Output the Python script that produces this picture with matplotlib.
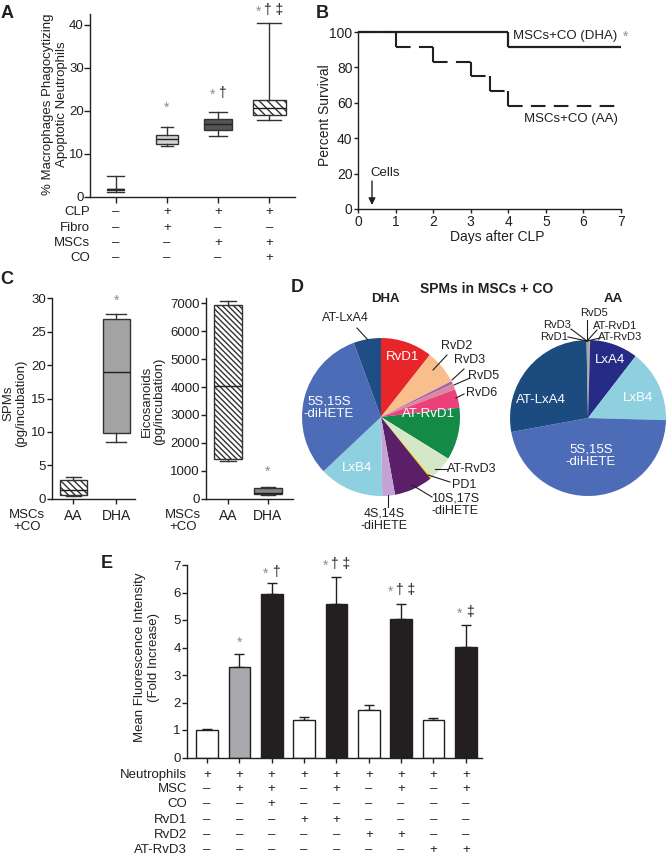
import matplotlib
matplotlib.use('Agg')
import matplotlib.pyplot as plt
import numpy as np

plt.rcParams['font.family'] = ['Liberation Sans', 'DejaVu Sans']
plt.rcParams['hatch.linewidth'] = 1.0
plt.rcParams['font.size'] = 9.5

W, H = 666, 856
LC = '#231F20'
GRAY_STAR = '#8C8C8C'
PLUS, MINUS = '+', '–'

# ---------------- panel A: box plots ----------------
a_lo = [1.2, 11.7, 14.2, 17.9]
a_q1 = [1.5, 12.3, 15.6, 19.0]
a_med = [1.7, 13.5, 16.8, 20.6]
a_q3 = [1.8, 14.3, 18.1, 22.5]
a_hi = [4.7, 16.3, 19.8, 40.3]
a_rows = ['CLP', 'Fibro', 'MSCs', 'CO']
a_signs = [['-', '+', '+', '+'],
           ['-', '+', '-', '-'],
           ['-', '-', '+', '+'],
           ['-', '-', '-', '+']]
a_star = [False, True, True, True]
a_dagger = ['', '', '†', '† ‡']

# ---------------- panel B: survival ----------------
b_t_dha = [0, 4, 7]
b_s_dha = [100, 91.7]
b_t_aa = [0, 1, 2, 3, 3.5, 4, 7]
b_s_aa = [100, 91.7, 83.3, 75.0, 66.7, 58.3]

# ---------------- panel C: box plots ----------------
c_groups = ['AA', 'DHA']
c_spm_lo = [0.4, 8.5]
c_spm_q1 = [0.5, 9.8]
c_spm_med = [1.3, 18.9]
c_spm_q3 = [2.8, 26.9]
c_spm_hi = [3.2, 27.7]
c_eic_lo = [1350, 130]
c_eic_q1 = [1420, 160]
c_eic_med = [4050, 220]
c_eic_q3 = [6940, 370]
c_eic_hi = [7090, 420]

# ---------------- panel D: pies ----------------
d_dha_names = ['RvD1', 'RvD2', 'RvD3', 'RvD5', 'RvD6', 'AT-RvD1', 'AT-RvD3', 'PD1',
               '10S,17S-diHETE', '4S,14S-diHETE', 'LxB4', '5S,15S-diHETE', 'AT-LxA4']
d_dha_vals = [10.6, 6.9, 0.6, 1.2, 3.8, 10.7, 5.0, 0.4, 7.9, 2.6, 13.2, 31.4, 5.6]
d_dha_colors = ['#E8262A', '#F8BE8C', '#A560B0', '#D9899F', '#EC407A', '#138A45', '#D4E8C8',
                '#F2E01C', '#5B1F6A', '#C6A2D4', '#8FD0E0', '#4D6CB8', '#1F4E86']
d_aa_names = ['RvD5', 'AT-RvD1', 'AT-RvD3', 'LxA4', 'LxB4', '5S,15S-diHETE', 'AT-LxA4', 'RvD1', 'RvD3']
d_aa_vals = [0.15, 0.15, 0.15, 10.0, 15.0, 46.7, 27.6, 0.15, 0.15]
d_aa_colors = ['#9A9A9A', '#8A8A8A', '#9A9A9A', '#262C86', '#8FD0E0', '#4D6CB8', '#1C4B80',
               '#9A9A9A', '#8A8A8A']

# ---------------- panel E: bars ----------------
e_vals = [1.0, 3.28, 5.93, 1.37, 5.58, 1.72, 5.02, 1.36, 4.03]
e_sem = [0.05, 0.50, 0.42, 0.09, 1.00, 0.20, 0.55, 0.09, 0.78]
e_colors = ['white', '#A7A9AC', LC, 'white', LC, 'white', LC, 'white', LC]
e_rows = ['Neutrophils', 'MSC', 'CO', 'RvD1', 'RvD2', 'AT-RvD3']
e_signs = [['+'] * 9,
           ['-', '+', '+', '-', '+', '-', '+', '-', '+'],
           ['-', '-', '+', '-', '-', '-', '-', '-', '-'],
           ['-', '-', '-', '+', '+', '-', '-', '-', '-'],
           ['-', '-', '-', '-', '-', '+', '+', '-', '-'],
           ['-', '-', '-', '-', '-', '-', '-', '+', '+']]
e_star = [False, True, True, False, True, False, True, False, True]
e_dagger = ['', '', '†', '', '† ‡', '', '† ‡', '', '‡']


fig = plt.figure(figsize=(W / 100, H / 100), dpi=100)


def rect(l, t, r, b):
    return [l / W, 1 - b / H, (r - l) / W, (b - t) / H]


def style(ax, length=3.5, pad=1.0):
    for s in ['top', 'right']:
        ax.spines[s].set_visible(False)
    for s in ['left', 'bottom']:
        ax.spines[s].set_color(LC)
        ax.spines[s].set_linewidth(1.0)
    ax.tick_params(color=LC, labelcolor=LC, length=length, width=1, labelsize=9.5, pad=pad)


def px_x(ax, v):
    return ax.transData.transform((v, 0))[0]


def boxstats(lo, q1, med, q3, hi):
    return [dict(whislo=a, q1=b, med=c, q3=d, whishi=e, fliers=[])
            for a, b, c, d, e in zip(lo, q1, med, q3, hi)]


def draw_boxes(ax, stats, widths, capw, faces, hatches, medcolor=LC):
    bp = ax.bxp(stats, positions=range(len(stats)), widths=widths, capwidths=capw,
                patch_artist=True, showfliers=False, manage_ticks=False,
                boxprops=dict(edgecolor='#333333', linewidth=1.0),
                medianprops=dict(color=medcolor, linewidth=1.0),
                whiskerprops=dict(color='#333333', linewidth=1.0),
                capprops=dict(color='#333333', linewidth=1.0))
    for patch, fc, h in zip(bp['boxes'], faces, hatches):
        patch.set_facecolor(fc)
        patch.set_hatch(h)
    return bp


# overlay axes in pixel coordinates for labels
ov = fig.add_axes([0, 0, 1, 1], zorder=10)
ov.set_xlim(0, W)
ov.set_ylim(H, 0)
ov.axis('off')
ov.patch.set_visible(False)


def sign_text(s):
    return PLUS if s == '+' else MINUS


def sig(cx, y, star, dagger, fs=10):
    if not star:
        return
    if not dagger:
        ov.text(cx, y + 1, '*', color=GRAY_STAR, ha='center', va='center', fontsize=fs)
        return
    n = len(dagger.split())
    off = 6 if n == 1 else 11
    ov.text(cx - off, y + 1.5, '*', color=GRAY_STAR, ha='center', va='center', fontsize=fs)
    ov.text(cx - off + 6, y, dagger, color=LC, ha='left', va='center', fontsize=fs)


# ================= Panel A =================
axA = fig.add_axes(rect(90, 14, 295, 196.7))
draw_boxes(axA, boxstats(a_lo, a_q1, a_med, a_q3, a_hi),
           widths=[0.33, 0.42, 0.56, 0.65], capw=[0.33, 0.23, 0.36, 0.47],
           faces=['white', '#D3D3D3', '#555555', 'white'], hatches=['', '', '', '\\' * 4])
axA.set_xlim(-0.5, 3.5)
axA.set_ylim(0, 42.5)
axA.set_yticks([0, 10, 20, 30, 40])
axA.set_xticks(range(4))
axA.set_xticklabels([])
style(axA, length=4, pad=0.5)
ov.text(55, 104, '% Macrophages Phagocytizing\nApoptotic Neutrophils', rotation=90,
        ha='center', va='center', fontsize=9.5, linespacing=1.15, color=LC)
for i in range(4):
    cx = px_x(axA, i)
    sig(cx, {1: 107, 2: 93, 3: 10}.get(i, 0), a_star[i], a_dagger[i])
for r, (name, row) in enumerate(zip(a_rows, a_signs)):
    y = [212, 228, 243, 258][r]
    ov.text(90, y, name, ha='right', va='center', fontsize=9.5, color=LC)
    for i, s in enumerate(row):
        ov.text(px_x(axA, i), y, sign_text(s), ha='center', va='center', fontsize=9.5, color=LC)
ov.text(7, 13, 'A', ha='center', va='center', fontsize=13, fontweight='bold', color=LC)

# ================= Panel B =================
axB = fig.add_axes(rect(358, 32, 621, 209))
axB.hlines(b_s_dha, b_t_dha[:-1], b_t_dha[1:], color=LC, lw=1.6, clip_on=False, zorder=3)
axB.vlines(b_t_dha[1:-1], b_s_dha[1:], b_s_dha[:-1], color=LC, lw=1.6, clip_on=False, zorder=3)
axB.hlines(b_s_aa, b_t_aa[:-1], b_t_aa[1:], color=LC, lw=1.5, linestyles=[(0, (7, 4))],
           clip_on=False, zorder=2)
axB.vlines(b_t_aa[1:-1], b_s_aa[1:], b_s_aa[:-1], color=LC, lw=1.5, clip_on=False, zorder=2)
axB.set_xlim(0, 7)
axB.set_ylim(0, 100)
axB.set_xticks(range(8))
axB.set_yticks(range(0, 101, 20))
style(axB, length=3, pad=1)
axB.tick_params(labelsize=10)
ov.text(325, 115, 'Percent Survival', rotation=90, ha='center', va='center', fontsize=10, color=LC)
ov.text(497, 237, 'Days after CLP', ha='center', va='center', fontsize=10, color=LC)
ov.text(513, 36, 'MSCs+CO (DHA)', ha='left', va='center', fontsize=9.5, color=LC)
ov.text(626, 37, '*', ha='center', va='center', fontsize=10, color=GRAY_STAR)
ov.text(618, 119, 'MSCs+CO (AA)', ha='right', va='center', fontsize=9.5, color=LC)
ov.text(370, 173, 'Cells', ha='left', va='center', fontsize=9.5, color=LC)
ov.annotate('', xy=(372, 205), xytext=(372, 181),
            arrowprops=dict(arrowstyle='-|>', color=LC, lw=1.0, mutation_scale=10,
                            shrinkA=0, shrinkB=0))
ov.text(322, 13, 'B', ha='center', va='center', fontsize=13, fontweight='bold', color=LC)

# ================= Panel C =================
axC1 = fig.add_axes(rect(52, 298.3, 135, 498.7))
draw_boxes(axC1, boxstats(c_spm_lo, c_spm_q1, c_spm_med, c_spm_q3, c_spm_hi),
           widths=[0.63, 0.63], capw=[0.35, 0.45], faces=['white', '#A3A3A3'],
           hatches=['\\' * 5, ''])
axC1.set_xlim(-0.49, 1.44)
axC1.set_ylim(0, 30)
axC1.set_yticks(range(0, 31, 5))
axC1.set_xticks(range(2))
axC1.set_xticklabels(c_groups)
style(axC1, length=3.5, pad=1)
axC1.tick_params(axis='x', pad=4, labelsize=10)

axC2 = fig.add_axes(rect(206, 297.7, 293, 498.7))
draw_boxes(axC2, boxstats(c_eic_lo, c_eic_q1, c_eic_med, c_eic_q3, c_eic_hi),
           widths=[0.7, 0.7], capw=[0.42, 0.37], faces=['white', '#858585'],
           hatches=['\\' * 6, ''])
axC2.set_xlim(-0.55, 1.625)
axC2.set_ylim(0, 7200)
axC2.set_yticks(range(0, 7001, 1000))
axC2.set_xticks(range(2))
axC2.set_xticklabels(c_groups)
style(axC2, length=3.5, pad=1)
axC2.tick_params(axis='x', pad=4, labelsize=10)

ov.text(15, 403, 'SPMs\n(pg/incubation)', rotation=90, ha='center', va='center',
        fontsize=9.5, linespacing=1.1, color=LC)
ov.text(153, 401, 'Eicosanoids\n(pg/incubation)', rotation=90, ha='center', va='center',
        fontsize=9.5, linespacing=1.1, color=LC)
ov.text(27, 521, 'MSCs\n+CO', ha='center', va='center', fontsize=9.5, linespacing=1.1, color=LC)
ov.text(183, 521, 'MSCs\n+CO', ha='center', va='center', fontsize=9.5, linespacing=1.1, color=LC)
ov.text(px_x(axC1, 1), 301, '*', ha='center', va='center', fontsize=10, color=GRAY_STAR)
ov.text(px_x(axC2, 1), 472, '*', ha='center', va='center', fontsize=10, color=GRAY_STAR)
ov.text(7, 280, 'C', ha='center', va='center', fontsize=13, fontweight='bold', color=LC)

# ================= Panel D =================
dha_c, dha_r = (381, 417), 79
aa_c, aa_r = (588, 418), 78
axD1 = fig.add_axes(rect(dha_c[0] - dha_r, dha_c[1] - dha_r, dha_c[0] + dha_r, dha_c[1] + dha_r))
axD1.pie(d_dha_vals, colors=d_dha_colors, startangle=90, counterclock=False, radius=1,
         wedgeprops=dict(linewidth=0))
axD1.set_xlim(-1, 1)
axD1.set_ylim(-1, 1)
axD2 = fig.add_axes(rect(aa_c[0] - aa_r, aa_c[1] - aa_r, aa_c[0] + aa_r, aa_c[1] + aa_r))
axD2.pie(d_aa_vals, colors=d_aa_colors, startangle=90, counterclock=False, radius=1,
         wedgeprops=dict(linewidth=0))
axD2.set_xlim(-1, 1)
axD2.set_ylim(-1, 1)

ov.text(297, 287, 'D', ha='center', va='center', fontsize=13, fontweight='bold', color=LC)
ov.text(487, 289, 'SPMs in MSCs + CO', ha='center', va='center', fontsize=10,
        fontweight='bold', color=LC)
ov.text(385, 299, 'DHA', ha='center', va='center', fontsize=9.5, fontweight='bold', color=LC)
ov.text(613, 299, 'AA', ha='center', va='center', fontsize=9.5, fontweight='bold', color=LC)

white_kw = dict(ha='center', va='center', fontsize=9.5, color='white', linespacing=1.05)
ov.text(403, 357, 'RvD1', **white_kw)
ov.text(428, 414, 'AT-RvD1', **white_kw)
ov.text(329, 408, '5S,15S\n-diHETE', **white_kw)
ov.text(357, 468, 'LxB4', **white_kw)
ov.text(610, 360, 'LxA4', **white_kw)
ov.text(638, 398, 'LxB4', **white_kw)
ov.text(541, 400, 'AT-LxA4', **white_kw)
ov.text(591, 456, '5S,15S\n-diHETE', **white_kw)

lab_kw = dict(fontsize=9, color=LC, va='center', linespacing=1.05)
line_kw = dict(color=LC, lw=0.8)
# DHA outside labels
ov.text(345, 318, 'AT-LxA4', ha='center', **lab_kw)
ov.plot([357, 368], [328, 340], **line_kw)
ov.text(457, 346, 'RvD2', ha='center', **lab_kw)
ov.plot([447, 433], [355, 370], **line_kw)
ov.text(470, 360, 'RvD3', ha='center', **lab_kw)
ov.plot([464, 452], [369, 380], **line_kw)
ov.text(484, 376, 'RvD5', ha='center', **lab_kw)
ov.plot([470, 454], [378, 385], **line_kw)
ov.text(482, 393, 'RvD6', ha='center', **lab_kw)
ov.plot([464, 456], [394, 398], **line_kw)
ov.text(447, 469, 'AT-RvD3', ha='left', **lab_kw)
ov.plot([435, 447], [469, 469], **line_kw)
ov.text(452, 485, 'PD1', ha='left', **lab_kw)
ov.plot([428, 450], [475, 482], **line_kw)
ov.text(455, 505, '10S,17S\n-diHETE', ha='center', **lab_kw)
ov.plot([412, 432], [485, 497], **line_kw)
ov.text(384, 520, '4S,14S\n-diHETE', ha='center', **lab_kw)
ov.plot([388, 388], [495, 507], **line_kw)
# AA outside labels
small_kw = dict(fontsize=8, color=LC, va='center')
top = (587, 341)
ov.text(594, 313, 'RvD5', ha='center', **small_kw)
ov.plot([587, top[0]], [320, top[1]], **line_kw)
ov.text(557, 325, 'RvD3', ha='center', **small_kw)
ov.plot([571, top[0]], [329, top[1]], **line_kw)
ov.text(554, 337, 'RvD1', ha='center', **small_kw)
ov.plot([568, top[0]], [337, top[1]], **line_kw)
ov.text(615, 326, 'AT-RvD1', ha='center', **small_kw)
ov.plot([597, top[0]], [330, top[1]], **line_kw)
ov.text(620, 337, 'AT-RvD3', ha='center', **small_kw)
ov.plot([600, top[0]], [338, top[1]], **line_kw)

# ================= Panel E =================
axE = fig.add_axes(rect(187, 565, 482, 757.5))
xs = np.arange(len(e_vals))
axE.bar(xs, e_vals, width=0.67, color=e_colors, edgecolor=LC, linewidth=1.0, zorder=2)
axE.errorbar(xs, e_vals, yerr=[np.zeros(len(e_sem)), e_sem], fmt='none', ecolor=LC,
             elinewidth=1.0, capsize=3.6, capthick=1.0, zorder=1)
axE.set_xlim(-0.62, 8.5)
axE.set_ylim(0, 7)
axE.set_yticks(range(8))
axE.set_xticks(xs)
axE.set_xticklabels([])
style(axE, length=3.5, pad=1)
ov.text(147, 657, 'Mean Fluorescence Intensity\n(Fold Increase)', rotation=90, ha='center',
        va='center', fontsize=9.5, linespacing=1.15, color=LC)
e_sig_y = [0, 642, 572, 0, 564, 0, 590, 0, 612]
for i in xs:
    sig(px_x(axE, i), e_sig_y[i], e_star[i], e_dagger[i])
for r, (name, row) in enumerate(zip(e_rows, e_signs)):
    y = [775, 789, 804, 820, 835, 850][r]
    ov.text(187, y, name, ha='right', va='center', fontsize=9.5, color=LC)
    for i, s in enumerate(row):
        ov.text(px_x(axE, i), y, sign_text(s), ha='center', va='center', fontsize=9.5, color=LC)
ov.text(107, 563, 'E', ha='center', va='center', fontsize=13, fontweight='bold', color=LC)

fig.savefig('out.png', dpi=100)
